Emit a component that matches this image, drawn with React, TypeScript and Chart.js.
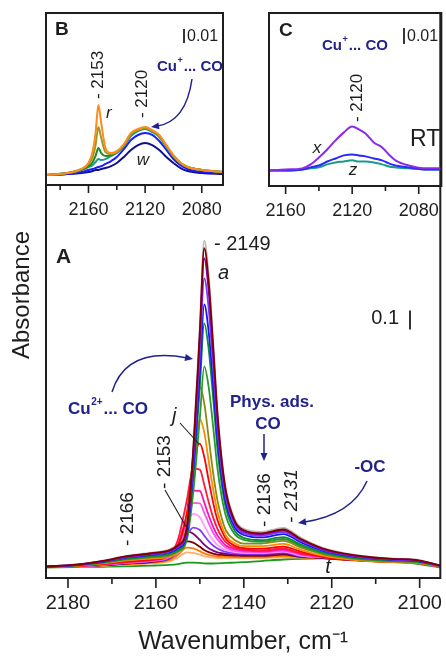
import React, { useEffect, useRef } from "react";
import { Chart, registerables } from "chart.js";

Chart.register(...registerables);

const FONT = "'Liberation Sans', Arial, Helvetica, sans-serif";
const INK = "#1e1e1e";
const NAVY = "#22228c";

// ---------------- Panel A: spectra a..t ----------------
const A_WAVENUMBERS = [2185, 2178, 2172, 2167, 2161, 2157, 2155, 2153, 2151.5, 2150, 2149, 2148, 2147, 2146, 2145, 2144, 2142, 2140, 2136, 2131, 2127, 2122, 2115, 2106, 2101, 2095.3];
const A_a = [0.005, 0.016, 0.036, 0.06, 0.078, 0.094, 0.12, 0.209, 0.632, 1.276, 1.72, 1.541, 1.202, 0.832, 0.573, 0.404, 0.25, 0.203, 0.187, 0.208, 0.156, 0.104, 0.068, 0.047, 0.042, 0.01];
const A_b = [0.005, 0.015, 0.035, 0.058, 0.075, 0.09, 0.116, 0.203, 0.616, 1.246, 1.68, 1.504, 1.173, 0.811, 0.558, 0.392, 0.242, 0.196, 0.18, 0.2, 0.15, 0.1, 0.065, 0.045, 0.04, 0.01];
const A_c = [0.005, 0.015, 0.034, 0.056, 0.073, 0.087, 0.112, 0.197, 0.596, 1.206, 1.626, 1.456, 1.136, 0.785, 0.54, 0.38, 0.235, 0.19, 0.175, 0.194, 0.146, 0.097, 0.063, 0.044, 0.039, 0.01];
const A_d = [0.005, 0.014, 0.033, 0.054, 0.07, 0.084, 0.107, 0.186, 0.56, 1.129, 1.521, 1.362, 1.064, 0.737, 0.508, 0.359, 0.223, 0.181, 0.167, 0.186, 0.14, 0.093, 0.06, 0.042, 0.037, 0.009];
const A_e = [0.004, 0.013, 0.031, 0.051, 0.066, 0.079, 0.101, 0.173, 0.512, 1.028, 1.384, 1.241, 0.97, 0.674, 0.468, 0.332, 0.209, 0.171, 0.158, 0.176, 0.132, 0.088, 0.057, 0.04, 0.035, 0.009];
const A_f = [0.004, 0.012, 0.028, 0.046, 0.06, 0.072, 0.092, 0.159, 0.474, 0.954, 1.284, 1.15, 0.899, 0.624, 0.431, 0.305, 0.191, 0.156, 0.144, 0.16, 0.12, 0.08, 0.052, 0.036, 0.032, 0.008];
const A_g = [0.004, 0.011, 0.026, 0.044, 0.056, 0.068, 0.085, 0.141, 0.397, 0.789, 1.058, 0.95, 0.747, 0.523, 0.368, 0.265, 0.173, 0.145, 0.135, 0.15, 0.113, 0.075, 0.049, 0.034, 0.03, 0.008];
const A_h = [0.004, 0.011, 0.025, 0.041, 0.053, 0.063, 0.096, 0.223, 0.6, 0.951, 0.865, 0.683, 0.501, 0.353, 0.257, 0.192, 0.143, 0.126, 0.126, 0.14, 0.105, 0.07, 0.046, 0.032, 0.028, 0.007];
const A_i = [0.003, 0.009, 0.022, 0.036, 0.047, 0.056, 0.083, 0.187, 0.494, 0.781, 0.711, 0.563, 0.415, 0.295, 0.217, 0.165, 0.126, 0.112, 0.112, 0.124, 0.093, 0.062, 0.04, 0.028, 0.025, 0.006];
const A_j = [0.003, 0.008, 0.019, 0.032, 0.041, 0.062, 0.113, 0.281, 0.559, 0.652, 0.582, 0.46, 0.344, 0.25, 0.193, 0.148, 0.114, 0.102, 0.099, 0.11, 0.083, 0.055, 0.04, 0.03, 0.027, 0.006];
const A_k = [0.003, 0.008, 0.018, 0.029, 0.043, 0.069, 0.145, 0.349, 0.52, 0.515, 0.435, 0.345, 0.265, 0.203, 0.161, 0.131, 0.104, 0.095, 0.09, 0.1, 0.075, 0.06, 0.045, 0.033, 0.03, 0.005];
const A_l = [0.002, 0.007, 0.016, 0.027, 0.039, 0.06, 0.119, 0.275, 0.405, 0.403, 0.342, 0.275, 0.215, 0.169, 0.138, 0.114, 0.096, 0.089, 0.085, 0.094, 0.071, 0.058, 0.044, 0.032, 0.029, 0.005];
const A_m = [0.002, 0.007, 0.015, 0.026, 0.036, 0.055, 0.103, 0.232, 0.34, 0.338, 0.288, 0.234, 0.184, 0.147, 0.122, 0.104, 0.088, 0.082, 0.079, 0.088, 0.066, 0.056, 0.043, 0.031, 0.028, 0.004];
const A_n = [0.002, 0.006, 0.015, 0.024, 0.036, 0.055, 0.101, 0.224, 0.282, 0.264, 0.221, 0.178, 0.144, 0.119, 0.102, 0.091, 0.081, 0.077, 0.076, 0.084, 0.063, 0.055, 0.042, 0.031, 0.028, 0.004];
const A_o = [0.002, 0.006, 0.014, 0.023, 0.032, 0.048, 0.081, 0.168, 0.21, 0.197, 0.168, 0.139, 0.116, 0.1, 0.089, 0.082, 0.075, 0.073, 0.072, 0.08, 0.06, 0.053, 0.041, 0.03, 0.027, 0.004];
const A_p = [0.002, 0.006, 0.013, 0.021, 0.032, 0.055, 0.112, 0.19, 0.178, 0.145, 0.12, 0.101, 0.089, 0.08, 0.075, 0.072, 0.069, 0.067, 0.067, 0.074, 0.058, 0.052, 0.04, 0.03, 0.027, 0.004];
const A_q = [0.002, 0.005, 0.012, 0.02, 0.029, 0.046, 0.084, 0.137, 0.131, 0.109, 0.092, 0.081, 0.073, 0.068, 0.066, 0.065, 0.063, 0.061, 0.061, 0.068, 0.056, 0.05, 0.039, 0.029, 0.026, 0.003];
const A_r = [0.002, 0.005, 0.011, 0.017, 0.025, 0.038, 0.066, 0.105, 0.101, 0.086, 0.074, 0.066, 0.061, 0.058, 0.057, 0.057, 0.055, 0.054, 0.054, 0.06, 0.054, 0.049, 0.038, 0.028, 0.025, 0.003];
const A_s = [0.001, 0.004, 0.009, 0.016, 0.022, 0.032, 0.052, 0.08, 0.077, 0.068, 0.059, 0.055, 0.052, 0.05, 0.05, 0.05, 0.05, 0.049, 0.049, 0.054, 0.052, 0.048, 0.037, 0.027, 0.024, 0.003];
const A_t = [0.0, 0.002, 0.004, 0.006, 0.01, 0.014, 0.018, 0.026, 0.026, 0.024, 0.022, 0.021, 0.021, 0.022, 0.023, 0.024, 0.026, 0.028, 0.034, 0.042, 0.046, 0.048, 0.042, 0.03, 0.02, 0.0];

// drawn bottom-to-top is reversed by Chart.js (first dataset ends on top)
const A_SERIES = [A_b, A_c, A_d, A_e, A_f, A_g, A_h, A_i, A_j, A_k, A_l, A_m, A_n, A_o, A_p, A_q, A_r, A_s, A_t, A_a];
const A_COLORS = ["#800000", "#8a00b8", "#7a3cf5", "#1414ff", "#0d8a3a", "#2a9a2a", "#8a8a10", "#ff8a00", "#ff0000", "#ff1a3c", "#ff10b4", "#ff50f0", "#ffa0ff", "#8040ff", "#800080", "#7a0000", "#ff7a00", "#ffb070", "#1a9a1a", "#b8b8b8"];

// ---------------- Panel B: spectra r..w ----------------
const B_WAVENUMBERS = [2190, 2175, 2165, 2160, 2157, 2155, 2153, 2151, 2148, 2144, 2140, 2135, 2130, 2125, 2120, 2115, 2110, 2105, 2100, 2095, 2090, 2080, 2065];
const B_r = [0, 0.0014, 0.0043, 0.0086, 0.0171, 0.03, 0.05, 0.0371, 0.0193, 0.0157, 0.0171, 0.0221, 0.03, 0.0329, 0.0343, 0.0321, 0.0286, 0.0214, 0.0143, 0.0086, 0.0057, 0.0036, 0.0021];
const B_s = [0, 0.0014, 0.0043, 0.0079, 0.0129, 0.0214, 0.0343, 0.0264, 0.0164, 0.015, 0.0164, 0.0214, 0.0293, 0.0321, 0.0336, 0.0314, 0.0279, 0.0207, 0.0136, 0.0086, 0.0057, 0.0036, 0.0021];
const B_t = [0, 0.0014, 0.0036, 0.0064, 0.0093, 0.0136, 0.0193, 0.0157, 0.0136, 0.0143, 0.0164, 0.0214, 0.0293, 0.0321, 0.0336, 0.0314, 0.0279, 0.0207, 0.0136, 0.0086, 0.0057, 0.0036, 0.0021];
const B_u = [0, 0.0014, 0.0036, 0.0057, 0.0071, 0.0093, 0.0114, 0.0107, 0.0114, 0.0136, 0.0157, 0.0207, 0.0279, 0.0314, 0.0329, 0.0307, 0.0271, 0.02, 0.0136, 0.0086, 0.0057, 0.0036, 0.0021];
const B_v = [0, 0.0007, 0.0021, 0.0036, 0.0043, 0.005, 0.0057, 0.0064, 0.0079, 0.01, 0.0129, 0.0186, 0.025, 0.0286, 0.03, 0.0286, 0.0243, 0.0179, 0.0114, 0.0071, 0.0043, 0.0021, 0.0014];
const B_w = [0, 0.0007, 0.0014, 0.0021, 0.0029, 0.0036, 0.0036, 0.0043, 0.005, 0.0064, 0.0086, 0.0129, 0.0179, 0.0214, 0.0229, 0.0214, 0.0179, 0.0129, 0.0086, 0.005, 0.0029, 0.0014, 0.0007];
const B_SERIES = [B_r, B_s, B_t, B_u, B_v, B_w];
const B_COLORS = ["#ff8c1a", "#9a9a28", "#22882a", "#1a9a8a", "#1c1cff", "#10108a"];

// ---------------- Panel C: spectra x..z (RT) ----------------
const C_WAVENUMBERS = [2170, 2160, 2150, 2145, 2140, 2135, 2130, 2125, 2120, 2116, 2112, 2107, 2102, 2098, 2094, 2086, 2075, 2066];
const C_x = [0, 0.0006, 0.0013, 0.0038, 0.0081, 0.0131, 0.0188, 0.0238, 0.0275, 0.0256, 0.0231, 0.0175, 0.0144, 0.01, 0.0063, 0.0031, 0.0013, 0.0013];
const C_y = [0, 0, 0.0006, 0.0019, 0.0031, 0.0056, 0.0075, 0.0094, 0.01, 0.0094, 0.0088, 0.0075, 0.0063, 0.0044, 0.0031, 0.0019, 0.0006, 0.0006];
const C_z = [0, 0, 0.0006, 0.0013, 0.0019, 0.0038, 0.005, 0.0056, 0.0063, 0.0056, 0.0056, 0.005, 0.0038, 0.0025, 0.0019, 0.0013, 0.0006, 0.0006];
const C_SERIES = [C_x, C_y, C_z];
const C_COLORS = ["#8a2be8", "#2a2aff", "#1a9a8a"];

const A_TICK_LABELS_STEP = 20;
const BC_TICK_LABELS_STEP = 40;

// ---------------- drawing helpers ----------------
type TOpt = { size: number; bold?: boolean; italic?: boolean; color?: string; align?: CanvasTextAlign; rot?: boolean };
function text(ctx: CanvasRenderingContext2D, s: string, x: number, y: number, o: TOpt) {
  ctx.save();
  ctx.font = `${o.italic ? "italic " : ""}${o.bold ? "bold " : ""}${o.size}px ${FONT}`;
  ctx.fillStyle = o.color || INK;
  ctx.textAlign = o.align || "left";
  ctx.textBaseline = "middle";
  ctx.translate(x, y);
  if (o.rot) ctx.rotate(-Math.PI / 2);
  ctx.fillText(s, 0, 0);
  ctx.restore();
}

function cuLabel(ctx: CanvasRenderingContext2D, x: number, y: number, size: number, sup: string) {
  ctx.save();
  ctx.fillStyle = NAVY;
  ctx.textBaseline = "middle";
  ctx.textAlign = "left";
  ctx.font = `bold ${size}px ${FONT}`;
  ctx.fillText("Cu", x, y);
  let w = ctx.measureText("Cu").width;
  ctx.font = `bold ${Math.round(size * 0.6)}px ${FONT}`;
  ctx.fillText(sup, x + w + 0.5, y - size * 0.4);
  w += ctx.measureText(sup).width + 1.5;
  ctx.font = `bold ${size}px ${FONT}`;
  ctx.fillText("... CO", x + w, y);
  ctx.restore();
}

function arrow(ctx: CanvasRenderingContext2D, x0: number, y0: number, cx: number, cy: number, x1: number, y1: number) {
  ctx.save();
  ctx.strokeStyle = NAVY;
  ctx.fillStyle = NAVY;
  ctx.lineWidth = 1.5;
  const ang = Math.atan2(y1 - cy, x1 - cx);
  const hl = 8;
  const ex = x1 - Math.cos(ang) * hl * 0.7;
  const ey = y1 - Math.sin(ang) * hl * 0.7;
  ctx.beginPath();
  ctx.moveTo(x0, y0);
  ctx.quadraticCurveTo(cx, cy, ex, ey);
  ctx.stroke();
  const bx = x1 - hl * Math.cos(ang);
  const by = y1 - hl * Math.sin(ang);
  ctx.beginPath();
  ctx.moveTo(x1, y1);
  ctx.lineTo(bx + 3.5 * Math.sin(ang), by - 3.5 * Math.cos(ang));
  ctx.lineTo(bx - 3.5 * Math.sin(ang), by + 3.5 * Math.cos(ang));
  ctx.closePath();
  ctx.fill();
  ctx.restore();
}

function line(ctx: CanvasRenderingContext2D, x0: number, y0: number, x1: number, y1: number, w = 1, color = INK) {
  ctx.save();
  ctx.strokeStyle = color;
  ctx.lineWidth = w;
  ctx.beginPath();
  ctx.moveTo(x0, y0);
  ctx.lineTo(x1, y1);
  ctx.stroke();
  ctx.restore();
}

function scaleBar(chart: any, x: number, yc: number, value: number) {
  const sy = chart.scales.y;
  const len = Math.abs(sy.getPixelForValue(value) - sy.getPixelForValue(0));
  line(chart.ctx, x, yc - len / 2, x, yc + len / 2, 1.8);
}

const framePlugin = {
  id: "frame",
  afterDraw(chart: any, _args: any, opts: any) {
    const { ctx, chartArea } = chart;
    const { left, right, top, bottom } = chartArea;
    ctx.save();
    ctx.strokeStyle = INK;
    ctx.lineWidth = 2;
    ctx.beginPath();
    if (opts.top) {
      ctx.moveTo(left, top);
      ctx.lineTo(right, top);
    }
    ctx.moveTo(left, top - (opts.top ? 1 : 0));
    ctx.lineTo(left, bottom + 1);
    ctx.lineTo(right, bottom + 1);
    ctx.lineTo(right, top - (opts.top ? 1 : 0));
    ctx.stroke();
    const sx = chart.scales.x;
    ctx.lineWidth = 1.6;
    ctx.beginPath();
    const start = Math.ceil(sx.min / opts.minor) * opts.minor;
    for (let v = start; v <= sx.max; v += opts.minor) {
      const px = sx.getPixelForValue(v);
      const major = Math.abs(v % opts.major) < 1e-6;
      const len = major ? opts.majorLen : opts.minorLen;
      ctx.moveTo(px, bottom + 1);
      ctx.lineTo(px, bottom + 1 + len);
    }
    ctx.stroke();
    ctx.restore();
  },
};

function notesA(chart: any) {
  const ctx = chart.ctx as CanvasRenderingContext2D;
  text(ctx, "A", 56, 257, { size: 21, bold: true });
  text(ctx, "- 2149", 214, 244, { size: 20 });
  text(ctx, "a", 218, 273, { size: 20, italic: true });
  text(ctx, "0.1", 399, 318, { size: 20, align: "right" });
  scaleBar(chart, 410, 320, 0.1);
  cuLabel(ctx, 68, 409, 17, "2+");
  arrow(ctx, 112, 392, 126, 346, 193, 359);
  text(ctx, "j", 172, 416, { size: 20, italic: true });
  line(ctx, 180, 423, 199, 444, 1.1);
  text(ctx, "Phys. ads.", 272, 402, { size: 17, bold: true, color: NAVY, align: "center" });
  text(ctx, "CO", 268, 424, { size: 17, bold: true, color: NAVY, align: "center" });
  arrow(ctx, 264, 434, 264, 448, 264, 461);
  text(ctx, "- 2136", 265, 500, { size: 19, rot: true, align: "center" });
  text(ctx, "- 2131", 292, 496, { size: 19, rot: true, align: "center", italic: true });
  text(ctx, "-OC", 370, 467, { size: 17, bold: true, color: NAVY, align: "center" });
  arrow(ctx, 367, 481, 352, 515, 298, 523);
  text(ctx, "- 2166", 128, 519, { size: 19, rot: true, align: "center" });
  text(ctx, "- 2153", 165, 462, { size: 19, rot: true, align: "center" });
  line(ctx, 165, 490, 188, 530, 1.1);
  text(ctx, "t", 328, 567, { size: 20, italic: true, align: "center" });
}

function notesB(chart: any) {
  const ctx = chart.ctx as CanvasRenderingContext2D;
  text(ctx, "B", 55, 30, { size: 19, bold: true });
  scaleBar(chart, 184, 36, 0.01);
  text(ctx, "0.01", 187, 37, { size: 16 });
  cuLabel(ctx, 157, 67, 15, "+");
  arrow(ctx, 192, 79, 186, 122, 151, 127);
  text(ctx, "- 2153", 98, 75, { size: 17, rot: true, align: "center" });
  text(ctx, "r", 106, 113, { size: 17, italic: true });
  text(ctx, "- 2120", 142, 94, { size: 17, rot: true, align: "center" });
  text(ctx, "w", 143, 160, { size: 17, italic: true, align: "center" });
}

function notesC(chart: any) {
  const ctx = chart.ctx as CanvasRenderingContext2D;
  const ox = -240;
  text(ctx, "C", 279 + ox, 31, { size: 19, bold: true });
  scaleBar(chart, 404 + ox, 36, 0.01);
  text(ctx, "0.01", 407 + ox, 37, { size: 16 });
  cuLabel(ctx, 322 + ox, 46, 15, "+");
  text(ctx, "- 2120", 357 + ox, 98, { size: 17, rot: true, align: "center" });
  text(ctx, "x", 317 + ox, 148, { size: 17, italic: true, align: "center" });
  text(ctx, "z", 353 + ox, 170, { size: 17, italic: true, align: "center" });
  text(ctx, "RT", 410 + ox, 140, { size: 23 });
}

function datasets(xs: number[], series: number[][], colors: string[], width: number) {
  return series.map((ys, i) => ({
    data: xs.map((x, j) => ({ x, y: ys[j] })),
    borderColor: colors[i],
    borderWidth: width,
    pointRadius: 0,
    fill: false,
    cubicInterpolationMode: "monotone" as const,
  }));
}

type PanelOpts = {
  xs: number[];
  series: number[][];
  colors: string[];
  lineWidth: number;
  xMin: number;
  xMax: number;
  yMin: number;
  yMax: number;
  labelStep: number;
  tickFont: number;
  tickLen: number;
  tickPad: number;
  axisHeight: number;
  padding: { left: number; right: number; top: number; bottom: number };
  xTitle?: string;
  yTitle?: string;
  frame: any;
  notes: (c: any) => void;
};

function makeConfig(p: PanelOpts): any {
  return {
    type: "line",
    data: { datasets: datasets(p.xs, p.series, p.colors, p.lineWidth) },
    plugins: [framePlugin, { id: "notes", afterDraw: (c: any) => p.notes(c) }],
    options: {
      animation: false,
      responsive: false,
      devicePixelRatio: 1,
      events: [],
      layout: { padding: p.padding },
      plugins: { legend: { display: false }, tooltip: { enabled: false }, frame: p.frame },
      scales: {
        x: {
          type: "linear",
          reverse: true,
          min: p.xMin,
          max: p.xMax,
          position: "bottom",
          afterFit: (s: any) => {
            s.height = p.axisHeight;
          },
          grid: { display: false, drawTicks: true, tickLength: p.tickLen },
          border: { display: false },
          ticks: {
            stepSize: p.labelStep,
            includeBounds: false,
            autoSkip: false,
            maxRotation: 0,
            padding: p.tickPad,
            color: INK,
            font: { family: FONT, size: p.tickFont },
            callback: (v: number) => String(v),
          },
          title: p.xTitle
            ? { display: true, text: p.xTitle, color: INK, font: { family: FONT, size: 25 }, padding: { top: 0, bottom: 0 } }
            : { display: false },
        },
        y: p.yTitle
          ? {
              type: "linear",
              min: p.yMin,
              max: p.yMax,
              afterFit: (s: any) => {
                s.width = 46;
              },
              grid: { display: false },
              border: { display: false },
              ticks: { display: false },
              title: { display: true, text: p.yTitle, color: INK, font: { family: FONT, size: 24 }, padding: { top: 8, bottom: 0 } },
            }
          : { type: "linear", display: false, min: p.yMin, max: p.yMax },
      },
    },
  };
}

export default function App() {
  const refA = useRef<HTMLCanvasElement>(null);
  const refB = useRef<HTMLCanvasElement>(null);
  const refC = useRef<HTMLCanvasElement>(null);

  useEffect(() => {
    const a = new Chart(
      refA.current as HTMLCanvasElement,
      makeConfig({
        xs: A_WAVENUMBERS,
        series: A_SERIES,
        colors: A_COLORS,
        lineWidth: 1.8,
        xMin: 2095.3,
        xMax: 2185,
        yMin: -0.05,
        yMax: 2.918,
        labelStep: A_TICK_LABELS_STEP,
        tickFont: 20,
        tickLen: 10,
        tickPad: 4,
        axisHeight: 80,
        padding: { left: 0, right: 2, top: 13, bottom: 0 },
        xTitle: "Wavenumber, cm\u207B\u00B9",
        yTitle: "Absorbance",
        frame: { top: false, minor: 10, major: 20, majorLen: 10, minorLen: 6 },
        notes: notesA,
      })
    );
    const b = new Chart(
      refB.current as HTMLCanvasElement,
      makeConfig({
        xs: B_WAVENUMBERS,
        series: B_SERIES,
        colors: B_COLORS,
        lineWidth: 2,
        xMin: 2065,
        xMax: 2190,
        yMin: -0.0064,
        yMax: 0.1157,
        labelStep: BC_TICK_LABELS_STEP,
        tickFont: 18,
        tickLen: 8,
        tickPad: 7,
        axisHeight: 46,
        padding: { left: 46, right: 17, top: 13, bottom: 0 },
        frame: { top: true, minor: 20, major: 40, majorLen: 8, minorLen: 5 },
        notes: notesB,
      })
    );
    const c = new Chart(
      refC.current as HTMLCanvasElement,
      makeConfig({
        xs: C_WAVENUMBERS,
        series: C_SERIES,
        colors: C_COLORS,
        lineWidth: 2,
        xMin: 2066.4,
        xMax: 2170,
        yMin: -0.0091,
        yMax: 0.0984,
        labelStep: BC_TICK_LABELS_STEP,
        tickFont: 18,
        tickLen: 8,
        tickPad: 7,
        axisHeight: 45,
        padding: { left: 29, right: 2, top: 13, bottom: 0 },
        frame: { top: true, minor: 20, major: 40, majorLen: 8, minorLen: 5 },
        notes: notesC,
      })
    );
    return () => {
      a.destroy();
      b.destroy();
      c.destroy();
    };
  }, []);

  return (
    <div style={{ position: "absolute", left: 0, top: 0, width: 446, height: 657, background: "#fff", overflow: "hidden" }}>
      <canvas ref={refA} width={446} height={657} style={{ position: "absolute", left: 0, top: 0 }} />
      <canvas ref={refB} width={240} height={230} style={{ position: "absolute", left: 0, top: 0 }} />
      <canvas ref={refC} width={206} height={230} style={{ position: "absolute", left: 240, top: 0 }} />
    </div>
  );
}
